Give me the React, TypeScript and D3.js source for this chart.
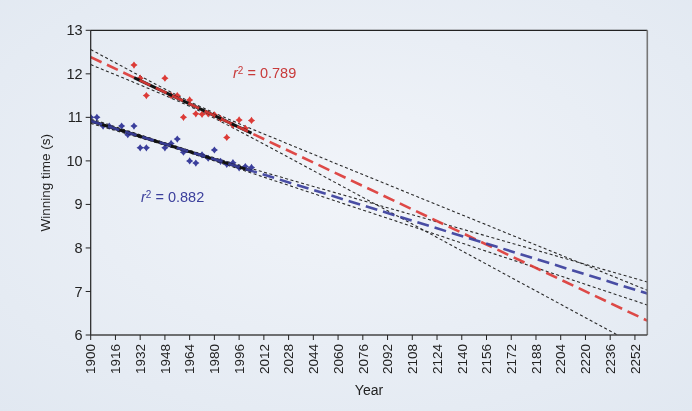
import React from "react";
import * as d3 from "d3";

const menYears = [1900, 1904, 1908, 1912, 1920, 1924, 1928, 1932, 1936, 1948, 1952, 1956, 1960, 1964, 1968, 1972, 1976, 1980, 1984, 1988, 1992, 1996, 2000, 2004];
const menTimes = [11.0, 11.0, 10.8, 10.8, 10.8, 10.6, 10.8, 10.3, 10.3, 10.3, 10.4, 10.5, 10.2, 10.0, 9.95, 10.14, 10.06, 10.25, 9.99, 9.92, 9.96, 9.84, 9.87, 9.85];
const womenYears = [1928, 1932, 1936, 1948, 1952, 1956, 1960, 1964, 1968, 1972, 1976, 1980, 1984, 1988, 1992, 1996, 2000, 2004];
const womenTimes = [12.2, 11.9, 11.5, 11.9, 11.5, 11.5, 11.0, 11.4, 11.08, 11.07, 11.08, 11.06, 10.97, 10.54, 10.82, 10.94, 10.75, 10.93];
const xTicks = d3.range(1900, 2253, 16);
const yTicks = [6, 7, 8, 9, 10, 11, 12, 13];
const xDomain = [1900, 2260];
const yDomain = [6, 13];
const bandMult = { men: 1.0, women: 1.1 };
const r2Labels = { women: "0.789", men: "0.882" };

const W = 692, H = 411;
const M = { left: 90.7, top: 30.3, right: 647.3, bottom: 335 };

function regress(xs: number[], ys: number[], t: number) {
  const n = xs.length;
  const mx = d3.mean(xs)!;
  const my = d3.mean(ys)!;
  let sxx = 0, sxy = 0;
  xs.forEach((x, i) => { sxx += (x - mx) ** 2; sxy += (x - mx) * (ys[i] - my); });
  const b = sxy / sxx;
  const a = my - b * mx;
  let sse = 0;
  xs.forEach((x, i) => { sse += (ys[i] - (a + b * x)) ** 2; });
  const s = Math.sqrt(sse / (n - 2));
  const f = (x: number) => a + b * x;
  const hw = (x: number) => t * s * Math.sqrt(1 / n + (x - mx) ** 2 / sxx);
  return { f, hw };
}

const STAR = "M0,-3.6L1.5,-1.5L3.6,0L1.5,1.5L0,3.6L-1.5,1.5L-3.6,0L-1.5,-1.5Z";

export default function App() {
  const x = d3.scaleLinear().domain(xDomain).range([M.left, M.right]);
  const y = d3.scaleLinear().domain(yDomain).range([M.bottom, M.top]);
  const line = d3.line<[number, number]>().x(d => x(d[0])).y(d => y(d[1]));
  const grid = d3.range(xDomain[0], xDomain[1] + 0.1, 2);

  const series = [
    { key: "women", years: womenYears, times: womenTimes, color: "#dc3b37", t: bandMult.women },
    { key: "men", years: menYears, times: menTimes, color: "#3b3f9c", t: bandMult.men },
  ];

  return (
    <svg width={W} height={H} style={{ position: "fixed", left: 0, top: 0 }} fontFamily="'Liberation Sans', Arial, sans-serif">
      <defs>
        <radialGradient id="bg" cx="0.5" cy="0.45" r="0.75">
          <stop offset="0" stopColor="#f1f4f9" />
          <stop offset="1" stopColor="#e1e8f1" />
        </radialGradient>
        <clipPath id="plot">
          <rect x={M.left} y={M.top} width={M.right - M.left} height={M.bottom - M.top} />
        </clipPath>
      </defs>
      <rect width={W} height={H} fill="url(#bg)" />
      <g clipPath="url(#plot)">
        {series.map(s => {
          const r = regress(s.years, s.times, s.t);
          const up = grid.map(g => [g, r.f(g) + r.hw(g)] as [number, number]);
          const lo = grid.map(g => [g, r.f(g) - r.hw(g)] as [number, number]);
          return (
            <g key={s.key + "band"}>
              <path d={line(up)!} fill="none" stroke="#2a2a2a" strokeWidth={1.1} strokeDasharray="3,2.5" />
              <path d={line(lo)!} fill="none" stroke="#2a2a2a" strokeWidth={1.1} strokeDasharray="3,2.5" />
            </g>
          );
        })}
        {series.map(s => {
          const r = regress(s.years, s.times, s.t);
          const x0 = d3.min(s.years)!, x1 = d3.max(s.years)!;
          return (
            <g key={s.key + "pts"}>
              {s.years.map((yr, i) => (
                <path key={yr} d={STAR} transform={`translate(${x(yr)},${y(s.times[i])})`} fill={s.color} />
              ))}
              <path d={line([[x0, r.f(x0)], [x1, r.f(x1)]])!} stroke="#111" strokeWidth={3} fill="none" />
            </g>
          );
        })}
        {series.map(s => {
          const r = regress(s.years, s.times, s.t);
          return (
            <path key={s.key + "fit"} d={line([[xDomain[0], r.f(xDomain[0])], [xDomain[1], r.f(xDomain[1])]])!}
              stroke={s.color} strokeWidth={2.6} fill="none" strokeDasharray="12,6" opacity={0.92} />
          );
        })}
      </g>
      <line x1={M.left} x2={M.right} y1={M.top} y2={M.top} stroke="#222" strokeWidth={1.2} />
      <line x1={M.right} x2={M.right} y1={M.top} y2={M.bottom} stroke="#777" strokeWidth={1.6} />
      <line x1={M.left} x2={M.left} y1={M.top} y2={M.bottom} stroke="#222" strokeWidth={1.2} />
      <line x1={M.left} x2={M.right} y1={M.bottom} y2={M.bottom} stroke="#444" strokeWidth={1.4} />
      {yTicks.map(t => (
        <g key={t}>
          <line x1={M.left - 5} x2={M.left} y1={y(t)} y2={y(t)} stroke="#222" />
          <text x={M.left - 8} y={y(t)} dy="0.35em" textAnchor="end" fontSize={14.5} fill="#222">{t}</text>
        </g>
      ))}
      {xTicks.map(t => (
        <g key={t}>
          <line x1={x(t)} x2={x(t)} y1={M.bottom} y2={M.bottom + 5} stroke="#222" />
          <text transform={`translate(${x(t)},${M.bottom + 9}) rotate(-90)`} dy="0.35em" textAnchor="end" fontSize={13.5} fill="#222">{t}</text>
        </g>
      ))}
      <text x={(M.left + M.right) / 2} y={395} textAnchor="middle" fontSize={14} fill="#222">Year</text>
      <text transform={`translate(50,${(M.top + M.bottom) / 2}) rotate(-90)`} textAnchor="middle" fontSize={13.5} fill="#222">Winning time (s)</text>
      <text x={233} y={78} fontSize={14.5} fill="#c83a3a"><tspan fontStyle="italic">r</tspan><tspan dy={-4} fontSize={10}>2</tspan><tspan dy={4}> = {r2Labels.women}</tspan></text>
      <text x={141} y={202} fontSize={14.5} fill="#3b3f9c"><tspan fontStyle="italic">r</tspan><tspan dy={-4} fontSize={10}>2</tspan><tspan dy={4}> = {r2Labels.men}</tspan></text>
    </svg>
  );
}
